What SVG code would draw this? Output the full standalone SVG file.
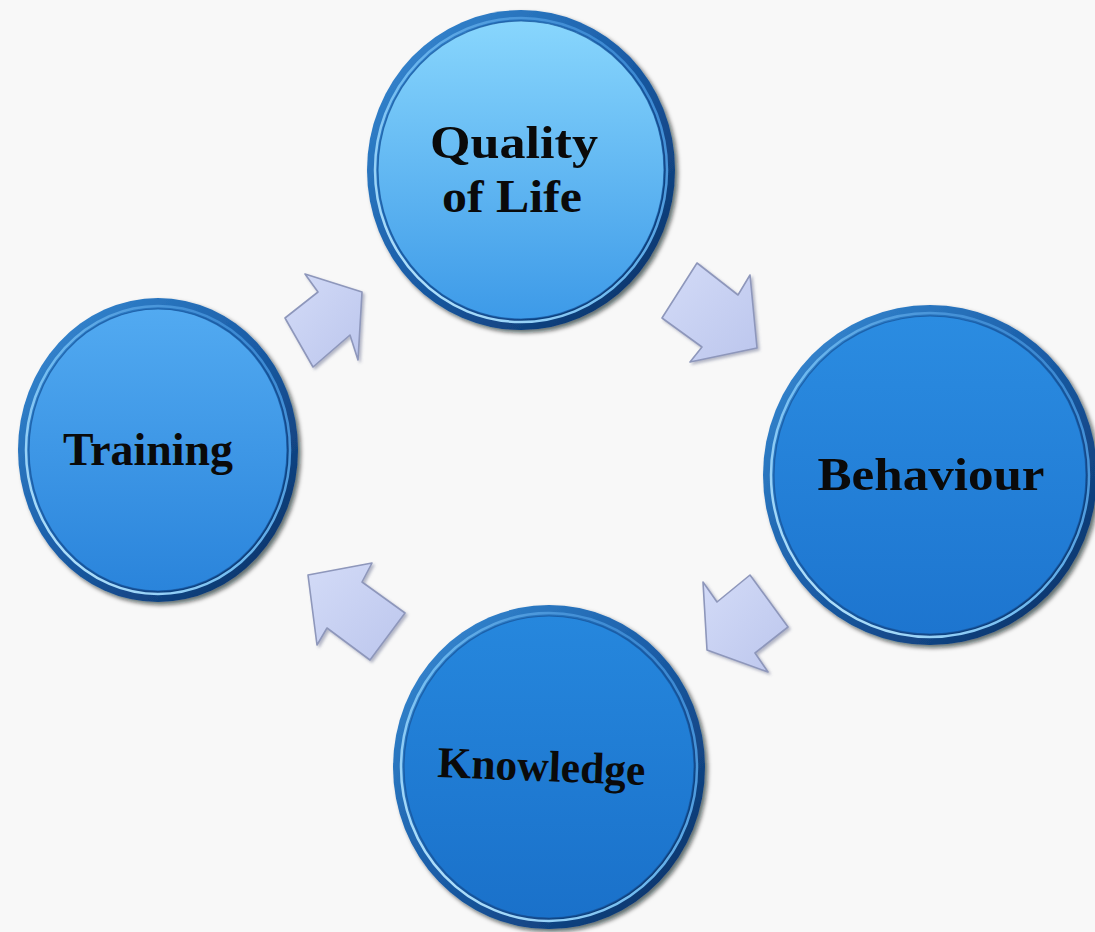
<svg xmlns="http://www.w3.org/2000/svg" width="1095" height="932" viewBox="0 0 1095 932">
  <defs>
    <style>
      .rim { fill: url(#rimGrad); filter: url(#shadow); }
      .bevel { fill: none; stroke: url(#bevelGrad); stroke-width: 2.5; }
      .inner { fill: none; stroke: #15539a; stroke-width: 1.2; stroke-opacity: 0.7; }
      .label { font-family: "Liberation Serif", "Times New Roman", serif; font-weight: bold; fill: #0a0a0a; text-anchor: middle; }
      .arrow { fill: url(#arrowGrad); stroke: #8e97bb; stroke-width: 1.6; stroke-linejoin: round; filter: url(#arrowShadow); }
    </style>
    <linearGradient id="rimGrad" x1="0" y1="0" x2="1" y2="1">
      <stop offset="0" stop-color="#3a8fd8"/>
      <stop offset="0.5" stop-color="#1a5ca6"/>
      <stop offset="1" stop-color="#082a5c"/>
    </linearGradient>
    <linearGradient id="bevelGrad" x1="1" y1="0" x2="0" y2="1">
      <stop offset="0" stop-color="#2a78c8"/>
      <stop offset="0.55" stop-color="#6fbaf0"/>
      <stop offset="1" stop-color="#c8eeff"/>
    </linearGradient>
    <linearGradient id="bodyQuality" x1="0" y1="0" x2="0" y2="1">
      <stop offset="0" stop-color="#88d6fd"/>
      <stop offset="1" stop-color="#3d9ae8"/>
    </linearGradient>
    <linearGradient id="bodyTraining" x1="0" y1="0" x2="0" y2="1">
      <stop offset="0" stop-color="#52aaf1"/>
      <stop offset="1" stop-color="#2a84db"/>
    </linearGradient>
    <linearGradient id="bodyBehaviour" x1="0" y1="0" x2="0" y2="1">
      <stop offset="0" stop-color="#2b8ce1"/>
      <stop offset="1" stop-color="#1d75cf"/>
    </linearGradient>
    <linearGradient id="bodyKnowledge" x1="0" y1="0" x2="0" y2="1">
      <stop offset="0" stop-color="#2687dd"/>
      <stop offset="1" stop-color="#1a71ca"/>
    </linearGradient>
    <linearGradient id="arrowGrad" x1="0" y1="0" x2="1" y2="1">
      <stop offset="0" stop-color="#d3dbf7"/>
      <stop offset="1" stop-color="#bcc6ed"/>
    </linearGradient>
    <filter id="shadow" x="-10%" y="-10%" width="125%" height="125%">
      <feDropShadow dx="3" dy="3" stdDeviation="2" flood-color="#000814" flood-opacity="0.6"/>
    </filter>
    <filter id="arrowShadow" x="-20%" y="-20%" width="150%" height="150%">
      <feDropShadow dx="2" dy="2" stdDeviation="1.5" flood-color="#5a6285" flood-opacity="0.45"/>
    </filter>
  </defs>

  <rect width="1095" height="932" fill="#f8f8f8"/>

  <!-- cycle arrows -->
  <g id="connectors">
    <polygon class="arrow" points="305,274 362,292 358,360 350,335 313,367 285,318 318,292"/>
    <polygon class="arrow" points="697,263 738,295 750,275 757,348 690,362 702,347 662,318"/>
    <polygon class="arrow" points="703,582 717,602 750,575 788,627 755,653 768,672 707,650"/>
    <polygon class="arrow" points="308,575 372,563 362,582 405,613 370,660 327,628 317,645"/>
  </g>

  <g id="node-quality">
    <ellipse class="rim" cx="521" cy="170" rx="154" ry="160"/>
    <ellipse class="bevel" cx="521" cy="170" rx="146" ry="152"/>
    <ellipse cx="521" cy="170" rx="143" ry="149" fill="url(#bodyQuality)"/>
    <ellipse class="inner" cx="521" cy="170" rx="143" ry="149"/>
    <text class="label" x="514" y="158" font-size="46" textLength="168" lengthAdjust="spacingAndGlyphs">Quality</text>
    <text class="label" x="512" y="212" font-size="46" textLength="140" lengthAdjust="spacingAndGlyphs">of Life</text>
  </g>

  <g id="node-training">
    <ellipse class="rim" cx="158" cy="450" rx="140" ry="152"/>
    <ellipse class="bevel" cx="158" cy="450" rx="132" ry="144"/>
    <ellipse cx="158" cy="450" rx="129" ry="141" fill="url(#bodyTraining)"/>
    <ellipse class="inner" cx="158" cy="450" rx="129" ry="141"/>
    <text class="label" x="148" y="465" font-size="46" textLength="170" lengthAdjust="spacingAndGlyphs">Training</text>
  </g>

  <g id="node-behaviour">
    <ellipse class="rim" cx="930" cy="475" rx="167" ry="170"/>
    <ellipse class="bevel" cx="930" cy="475" rx="159" ry="162"/>
    <ellipse cx="930" cy="475" rx="156" ry="159" fill="url(#bodyBehaviour)"/>
    <ellipse class="inner" cx="930" cy="475" rx="156" ry="159"/>
    <text class="label" x="931" y="490" font-size="46" textLength="227" lengthAdjust="spacingAndGlyphs">Behaviour</text>
  </g>

  <g id="node-knowledge">
    <ellipse class="rim" cx="549" cy="767" rx="156" ry="162"/>
    <ellipse class="bevel" cx="549" cy="767" rx="148" ry="154"/>
    <ellipse cx="549" cy="767" rx="145" ry="151" fill="url(#bodyKnowledge)"/>
    <ellipse class="inner" cx="549" cy="767" rx="145" ry="151"/>
    <text class="label" x="541" y="781" font-size="44" textLength="208" lengthAdjust="spacingAndGlyphs" transform="rotate(2.2 541 781)">Knowledge</text>
  </g>
</svg>
